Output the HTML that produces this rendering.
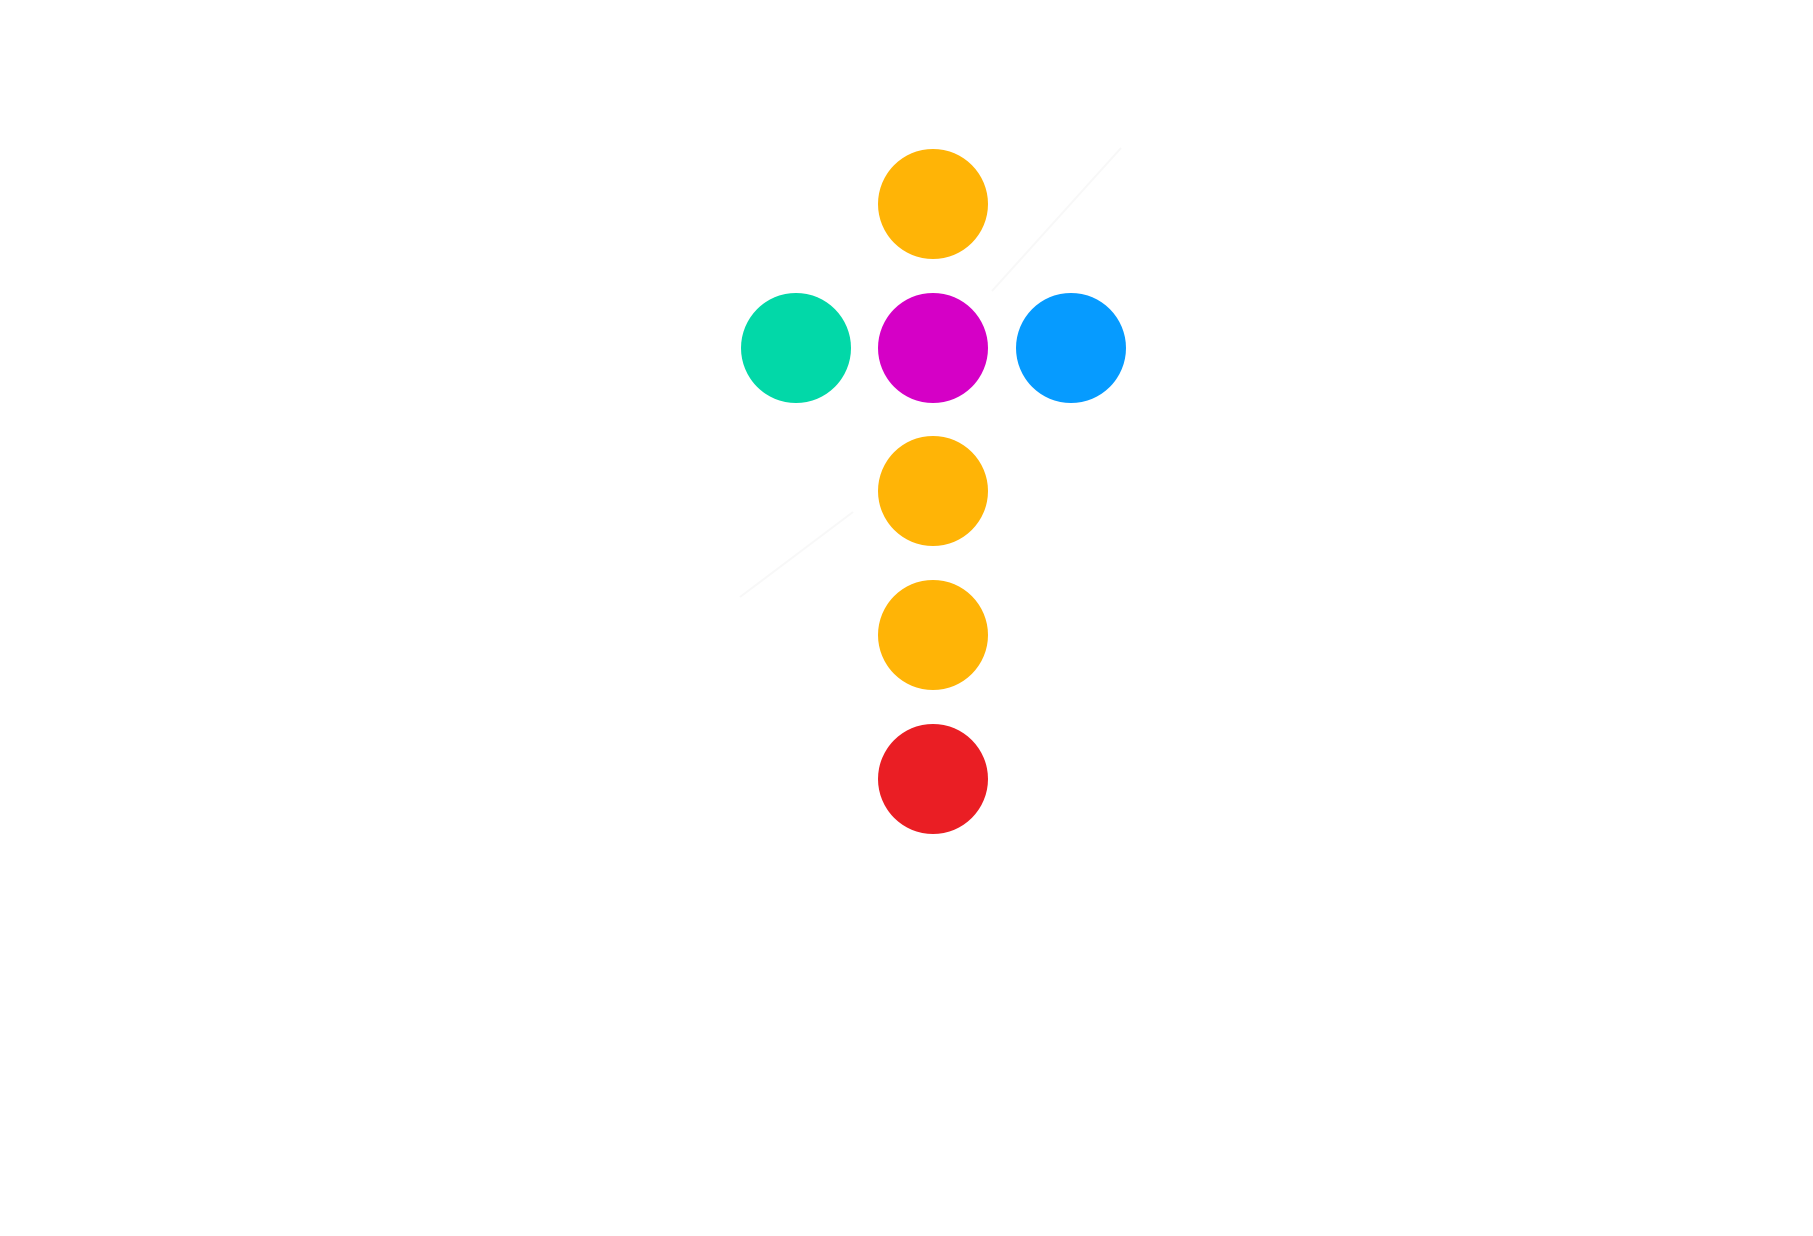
<!DOCTYPE html>
<html><head><meta charset="utf-8"><style>
html,body{margin:0;padding:0;background:#fff;width:1813px;height:1236px;overflow:hidden}
</style></head><body>
<svg width="1813" height="1236" viewBox="0 0 1813 1236" xmlns="http://www.w3.org/2000/svg">
<rect width="1813" height="1236" fill="#fff"/>
<line x1="992" y1="291" x2="1121" y2="148" stroke="#f8f8f8" stroke-width="2"/>
<line x1="853" y1="512" x2="740" y2="597" stroke="#f8f8f8" stroke-width="2"/>
<circle cx="933" cy="204" r="55" fill="#FFB406"/>
<circle cx="796" cy="348" r="55" fill="#02D8A8"/>
<circle cx="933" cy="348" r="55" fill="#D500C6"/>
<circle cx="1071" cy="348" r="55" fill="#069BFF"/>
<circle cx="933" cy="491" r="55" fill="#FFB406"/>
<circle cx="933" cy="635" r="55" fill="#FFB406"/>
<circle cx="933" cy="779" r="55" fill="#EA1E24"/>
</svg>
</body></html>
